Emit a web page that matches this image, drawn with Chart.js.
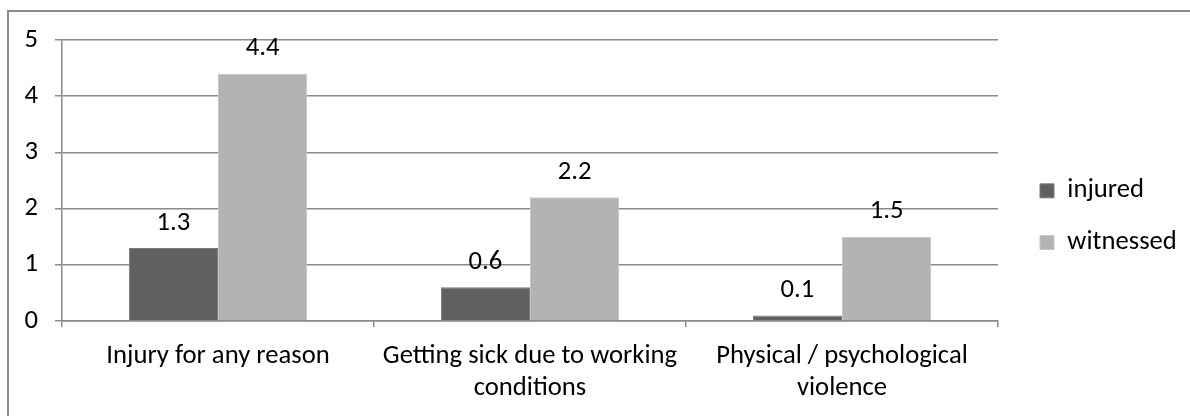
<!DOCTYPE html>
<html>
<head>
<meta charset="utf-8">
<script src="https://cdn.jsdelivr.net/npm/chart.js@4/dist/chart.umd.min.js"></script>
<style>
  html, body { margin: 0; padding: 0; background: #fff; }
  #wrap { width: 1190px; height: 416px; }
</style>
</head>
<body>
<div id="wrap"><canvas id="c" width="1190" height="416"></canvas></div>
<script>
// Categories, series and axis ticks
const categories = [
  "Injury for any reason",
  ["Getting sick due to working", "conditions"],
  ["Physical / psychological", "violence"]
];
const injured = [1.3, 0.6, 0.1];
const witnessed = [4.4, 2.2, 1.5];
const seriesNames = ["injured", "witnessed"];
const yTicks = [0, 1, 2, 3, 4, 5];

const FONT = "Carlito, 'Open Sans', sans-serif";
const FS = 26.67;
const GRID = "#8a8a8a";

// Value labels above each bar
const valueLabels = {
  id: "valueLabels",
  afterDatasetsDraw(chart) {
    const ctx = chart.ctx;
    ctx.save();
    ctx.font = FS + "px " + FONT;
    ctx.fillStyle = "#000";
    ctx.textAlign = "center";
    ctx.textBaseline = "middle";
    chart.data.datasets.forEach((ds, i) => {
      chart.getDatasetMeta(i).data.forEach((bar, j) => {
        ctx.fillText(ds.data[j].toFixed(1), bar.x, bar.y - 25);
      });
    });
    ctx.restore();
  }
};

// Outer frame of the chart
const frame = {
  id: "frame",
  beforeDraw(chart) {
    const ctx = chart.ctx;
    ctx.save();
    ctx.strokeStyle = "#8c8c8c";
    ctx.lineWidth = 2;
    ctx.strokeRect(8, 11, 1400, 600);
    ctx.restore();
  }
};

// Fixed-width legend column on the right
const legendWidth = {
  id: "legendWidth",
  beforeLayout(chart) {
    const lg = chart.legend;
    if (lg && !lg._fixedFit) {
      const fit = lg.fit.bind(lg);
      lg.fit = function () { fit(); this.width = 175; };
      lg._fixedFit = true;
    }
  }
};

new Chart(document.getElementById("c"), {
  type: "bar",
  data: {
    labels: categories,
    datasets: [
      { label: seriesNames[0], data: injured, backgroundColor: "#606060", borderColor: "#7c7c7c", borderWidth: 1 },
      { label: seriesNames[1], data: witnessed, backgroundColor: "#b3b3b3", borderColor: "#c6c6c6", borderWidth: 1 }
    ]
  },
  plugins: [frame, legendWidth, valueLabels],
  options: {
    responsive: false,
    animation: false,
    events: [],
    layout: { padding: { top: 40, bottom: 0, left: 0, right: 0 } },
    datasets: { bar: { categoryPercentage: 0.571, barPercentage: 1 } },
    plugins: {
      tooltip: { enabled: false },
      legend: {
        position: "right",
        align: "start",
        // empty title: only keeps the legend entries beside the middle of the plot
        title: { display: true, text: "", font: { size: 10, lineHeight: 1 }, padding: { top: 102.5, bottom: 0 } },
        labels: {
          boxWidth: 14,
          boxHeight: 14,
          padding: 25,
          color: "#000",
          font: { family: FONT, size: FS }
        }
      }
    },
    scales: {
      x: {
        offset: true,
        grid: { display: true, drawOnChartArea: false, drawTicks: true, tickLength: 6, color: GRID, lineWidth: 1.5, offset: true },
        border: { display: true, color: GRID, width: 1.5 },
        ticks: { color: "#000", font: { family: FONT, size: FS, lineHeight: 1.2 }, padding: 13.5, maxRotation: 0, autoSkip: false },
        afterFit(s) { s.height = 95; }
      },
      y: {
        min: yTicks[0],
        max: yTicks[yTicks.length - 1],
        afterBuildTicks(s) { s.ticks = yTicks.map(v => ({ value: v })); },
        grid: { color: GRID, lineWidth: 1.5, tickLength: 7, drawTicks: true },
        border: { display: true, color: GRID, width: 1.5 },
        ticks: { color: "#000", font: { family: FONT, size: FS }, padding: 17 },
        afterFit(s) { s.width = 62; }
      },
      spacer: {
        type: "linear",
        position: "right",
        display: true,
        grid: { display: false },
        border: { display: false },
        ticks: { display: false },
        afterFit(s) { s.width = 17; }
      }
    }
  }
});
</script>
</body>
</html>
